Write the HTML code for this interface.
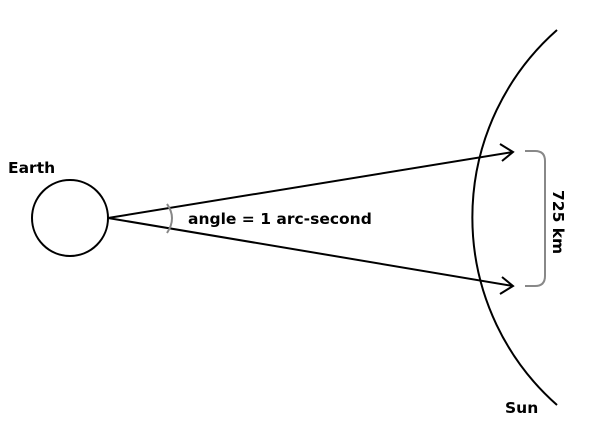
<!DOCTYPE html>
<html><head><style>
html,body{margin:0;padding:0;background:#fff;width:600px;height:436px;overflow:hidden}
text{font-family:"Comic Sans MS","DejaVu Sans","Liberation Sans",sans-serif;font-weight:bold;fill:#000}
</style></head><body>
<svg width="600" height="436" viewBox="0 0 600 436" xmlns="http://www.w3.org/2000/svg">
<circle cx="70" cy="218" r="38" fill="none" stroke="#000" stroke-width="2"/>
<text x="8" y="173" font-size="15.5">Earth</text>
<path d="M108 218 L513 152 M108 218 L513 286" stroke="#000" stroke-width="2" fill="none"/>
<path d="M500 144 L513 152 L502 161 M502 277 L513 286 L500 294" stroke="#000" stroke-width="2" fill="none"/>
<path d="M167 204 Q177 218 167 233" stroke="#888" stroke-width="2" fill="none"/>
<text x="188" y="224" font-size="15.5">angle = 1 arc-second</text>
<path d="M557 30 A250 250 0 0 0 557 405" stroke="#000" stroke-width="2" fill="none"/>
<path d="M525 151 L535 151 Q545 151 545 161 L545 276 Q545 286 535 286 L525 286" stroke="#888" stroke-width="2" fill="none"/>
<text x="0" y="0" font-size="15.5" transform="translate(553,190) rotate(90)">725 km</text>
<text x="505" y="413" font-size="15.5">Sun</text>
</svg>
</body></html>
